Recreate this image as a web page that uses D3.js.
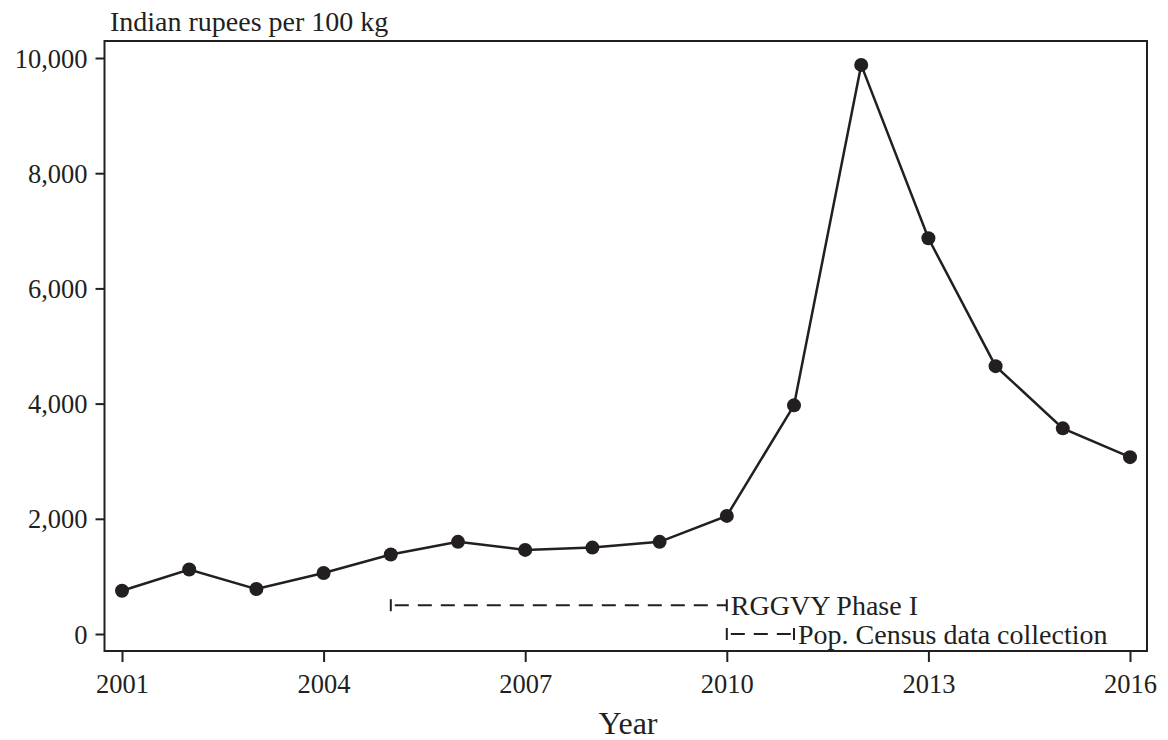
<!DOCTYPE html>
<html><head><meta charset="utf-8">
<script src="https://cdn.jsdelivr.net/npm/d3@7"></script>
<style>body{margin:0;background:#fff}svg{display:block}text{font-family:"Liberation Serif","Times New Roman",serif;fill:#231f20}</style>
</head><body><svg id="c" width="1168" height="740"></svg>
<script>
const years = [2001,2002,2003,2004,2005,2006,2007,2008,2009,2010,2011,2012,2013,2014,2015,2016];
const prices = [750,1120,780,1060,1380,1600,1460,1500,1600,2050,3970,9880,6870,4650,3570,3070];
const yTicks = [0,2000,4000,6000,8000,10000];
const xTicks = [2001,2004,2007,2010,2013,2016];
const ranges = [
  {label:"RGGVY Phase I", start:2005, end:2010, level:500},
  {label:"Pop. Census data collection", start:2010, end:2011, level:0}
];
const ink = "#231f20";
const svg = d3.select("#c");
const box = {l:104.5, r:1147, t:41, b:651};
const x = d3.scaleLinear().domain([2001,2016]).range([122,1130]);
const y = d3.scaleLinear().domain([0,10000]).range([634,58]);

svg.append("rect").attr("x",box.l).attr("y",box.t).attr("width",box.r-box.l).attr("height",box.b-box.t)
  .attr("fill","none").attr("stroke",ink).attr("stroke-width",2);

const yAx = svg.append("g").attr("transform",`translate(${box.l},0)`)
  .call(d3.axisLeft(y).tickValues(yTicks).tickSize(9).tickPadding(8).tickFormat(d3.format(",")));
const xAx = svg.append("g").attr("transform",`translate(0,${box.b})`)
  .call(d3.axisBottom(x).tickValues(xTicks).tickSize(11).tickPadding(12).tickFormat(d3.format("d")));
[yAx,xAx].forEach(g=>{
  g.select(".domain").remove();
  g.selectAll(".tick line").attr("stroke",ink).attr("stroke-width",2);
  g.selectAll(".tick text").style("font-size","26.5px").attr("fill",ink);
});
yAx.selectAll(".tick text").attr("dy","0.34em");

svg.append("text").attr("x",110).attr("y",31).style("font-size","28px").text("Indian rupees per 100 kg");
svg.append("text").attr("x",628).attr("y",734).attr("text-anchor","middle").style("font-size","32px").text("Year");

// range plots
const rg = svg.append("g");
ranges.forEach(r=>{
  const yy = y(r.level);
  rg.append("line").attr("x1",x(r.start)).attr("x2",x(r.end)).attr("y1",yy).attr("y2",yy)
    .attr("stroke",ink).attr("stroke-width",2).attr("stroke-dasharray","14,9").attr("stroke-dashoffset",-4);
  [r.start,r.end].forEach(v=>{
    rg.append("line").attr("x1",x(v)).attr("x2",x(v)).attr("y1",yy-6).attr("y2",yy+6)
      .attr("stroke",ink).attr("stroke-width",2);
  });
  rg.append("text").attr("x",x(r.end)+4).attr("y",yy).attr("dy","0.35em").style("font-size","28px").text(r.label);
});

const data = years.map((yr,i)=>({yr,v:prices[i]}));
svg.append("path").datum(data).attr("fill","none").attr("stroke",ink).attr("stroke-width",2.5)
  .attr("d",d3.line().x(d=>x(d.yr)).y(d=>y(d.v)));
svg.append("g").selectAll("circle").data(data).join("circle")
  .attr("cx",d=>x(d.yr)).attr("cy",d=>y(d.v)).attr("r",7).attr("fill",ink);
</script></body></html>
